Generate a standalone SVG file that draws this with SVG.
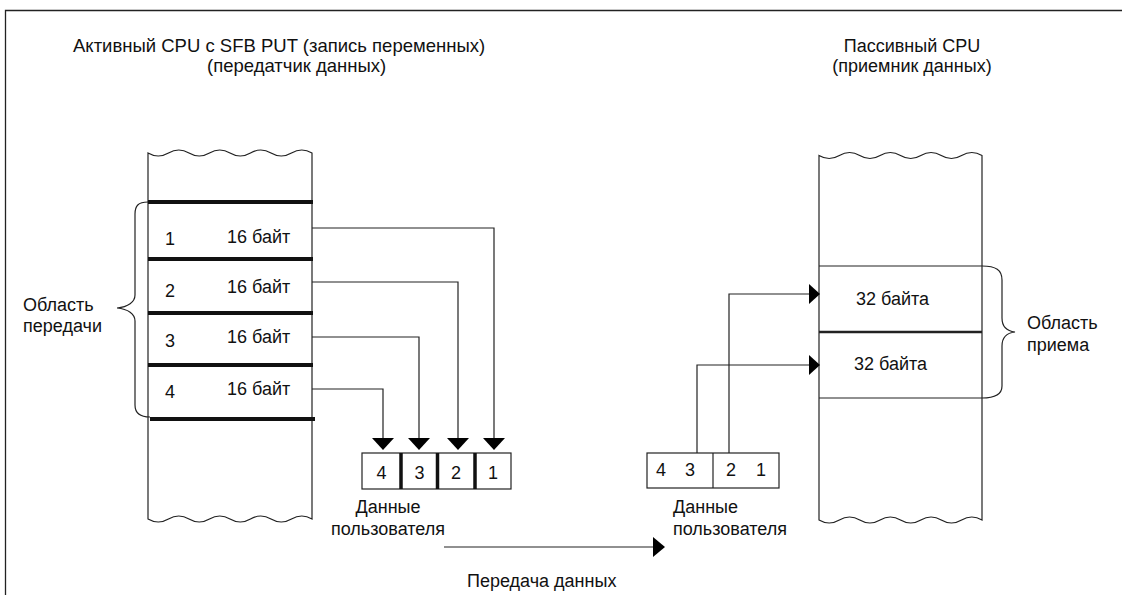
<svg xmlns="http://www.w3.org/2000/svg" width="1122" height="595" viewBox="0 0 1122 595">
<style>
.t{font-family:"Liberation Sans",Arial,sans-serif;font-size:18px;fill:#111}
.h{font-size:18.5px}
.m{text-anchor:middle}
.ln{fill:none;stroke:#222;stroke-width:1.2}
.bar{stroke:#111;stroke-width:4}
.col{fill:#fff;stroke:#222;stroke-width:1.2}
.ah{fill:#000}
</style>
<rect width="1122" height="595" fill="#fff"/>
<path d="M5.5,595 V10.5 H1122" fill="none" stroke="#222" stroke-width="1.3"/>

<g id="title-left">
<text class="t h" x="73" y="52">Активный CPU с SFB PUT (запись переменных)</text>
<text class="t h" x="207" y="72">(передатчик данных)</text>
</g>
<g id="title-right">
<text class="t m" x="912" y="52">Пассивный CPU</text>
<text class="t m" x="912" y="72">(приемник данных)</text>
</g>

<g id="cpu-active">
<path class="col" d="M148,153 Q158.25,159 168.5,153 T189,153 T209.5,153 T230,153 T250.5,153 T271,153 T291.5,153 T312,153 L312,519 Q301.75,513 291.5,519 T271,519 T250.5,519 T230,519 T209.5,519 T189,519 T168.5,519 T148,519 Z"/>
<line class="bar" x1="148" y1="202" x2="313" y2="202"/>
<line class="bar" x1="148" y1="259" x2="313" y2="259"/>
<line class="bar" x1="148" y1="313" x2="313" y2="313"/>
<line class="bar" x1="148" y1="365" x2="313" y2="365"/>
<line class="bar" x1="150" y1="419" x2="315" y2="419"/>
<text class="t m" x="170" y="245">1</text>
<text class="t m" x="170" y="297">2</text>
<text class="t m" x="170" y="347">3</text>
<text class="t m" x="170" y="398">4</text>
<text class="t" x="227" y="243">16 байт</text>
<text class="t" x="227" y="293">16 байт</text>
<text class="t" x="227" y="343">16 байт</text>
<text class="t" x="227" y="395">16 байт</text>
</g>

<g id="brace-send">
<path class="ln" d="M148,202 C138,202 135,206 135,214 L135,295 C135,302 128,307 117,308 C128,309 135,314 135,321 L135,405 C135,413 140,417 150,417"/>
<text class="t" x="23" y="311">Область</text>
<text class="t" x="23" y="332">передачи</text>
</g>

<g id="user-data-send">
<rect x="362" y="453" width="149" height="36" fill="#fff" stroke="#222" stroke-width="1.2"/>
<line class="bar" x1="401" y1="453" x2="401" y2="489" style="stroke-width:3.5"/>
<line class="bar" x1="437.5" y1="453" x2="437.5" y2="489" style="stroke-width:3.5"/>
<line class="bar" x1="475" y1="453" x2="475" y2="489" style="stroke-width:3.5"/>
<text class="t m" x="381.5" y="479">4</text>
<text class="t m" x="419.5" y="479">3</text>
<text class="t m" x="456" y="479">2</text>
<text class="t m" x="493" y="479">1</text>
<text class="t m" x="388" y="513">Данные</text>
<text class="t m" x="388" y="535">пользователя</text>
</g>

<g id="cpu-passive">
<path class="col" d="M819,155.5 Q829.19,161.5 839.375,155.5 T859.75,155.5 T880.125,155.5 T900.5,155.5 T920.875,155.5 T941.25,155.5 T961.625,155.5 T982,155.5 L982,520 Q971.81,514 961.625,520 T941.25,520 T920.875,520 T900.5,520 T880.125,520 T859.75,520 T839.375,520 T819,520 Z"/>
<line class="ln" x1="819" y1="266" x2="982" y2="266"/>
<line class="ln" x1="819" y1="332" x2="982" y2="332" style="stroke-width:2.5"/>
<line class="ln" x1="819" y1="398" x2="982" y2="398"/>
<text class="t" x="856" y="305">32 байта</text>
<text class="t" x="854" y="370">32 байта</text>
</g>

<g id="brace-receive">
<path class="ln" d="M982,266 C996,266 1002,270 1002,280 L1002,318 C1002,326 1006,331 1015,332 C1006,333 1002,338 1002,346 L1002,386 C1002,394 996,398 982,398"/>
<text class="t" x="1027" y="329">Область</text>
<text class="t" x="1027" y="351">приема</text>
</g>

<g id="user-data-receive">
<rect x="647" y="453" width="132" height="35" fill="#fff" stroke="#222" stroke-width="1.2"/>
<line class="ln" x1="713" y1="453" x2="713" y2="488"/>
<text class="t m" x="661" y="476">4</text>
<text class="t m" x="690" y="476">3</text>
<text class="t m" x="731" y="476">2</text>
<text class="t m" x="761" y="476">1</text>
<text class="t" x="673" y="513">Данные</text>
<text class="t" x="673" y="535">пользователя</text>
</g>

<g id="connectors">
<path class="ln" d="M312,228 H494 V440"/>
<path class="ln" d="M312,282 H458 V440"/>
<path class="ln" d="M312,337 H419 V440"/>
<path class="ln" d="M312,389 H383 V440"/>
<polygon class="ah" points="483,438 505,438 494,450"/>
<polygon class="ah" points="447,438 469,438 458,450"/>
<polygon class="ah" points="408,438 430,438 419,450"/>
<polygon class="ah" points="372,438 394,438 383,450"/>
<path class="ln" d="M729,453 V294 H811"/>
<path class="ln" d="M697,453 V365 H811"/>
<polygon class="ah" points="809,284 820,294 809,304"/>
<polygon class="ah" points="809,355 820,365 809,375"/>
<line class="ln" x1="444" y1="547" x2="655" y2="547"/>
<polygon class="ah" points="653,537 665,547 653,557"/>
<text class="t" x="467" y="587">Передача данных</text>
</g>
</svg>
